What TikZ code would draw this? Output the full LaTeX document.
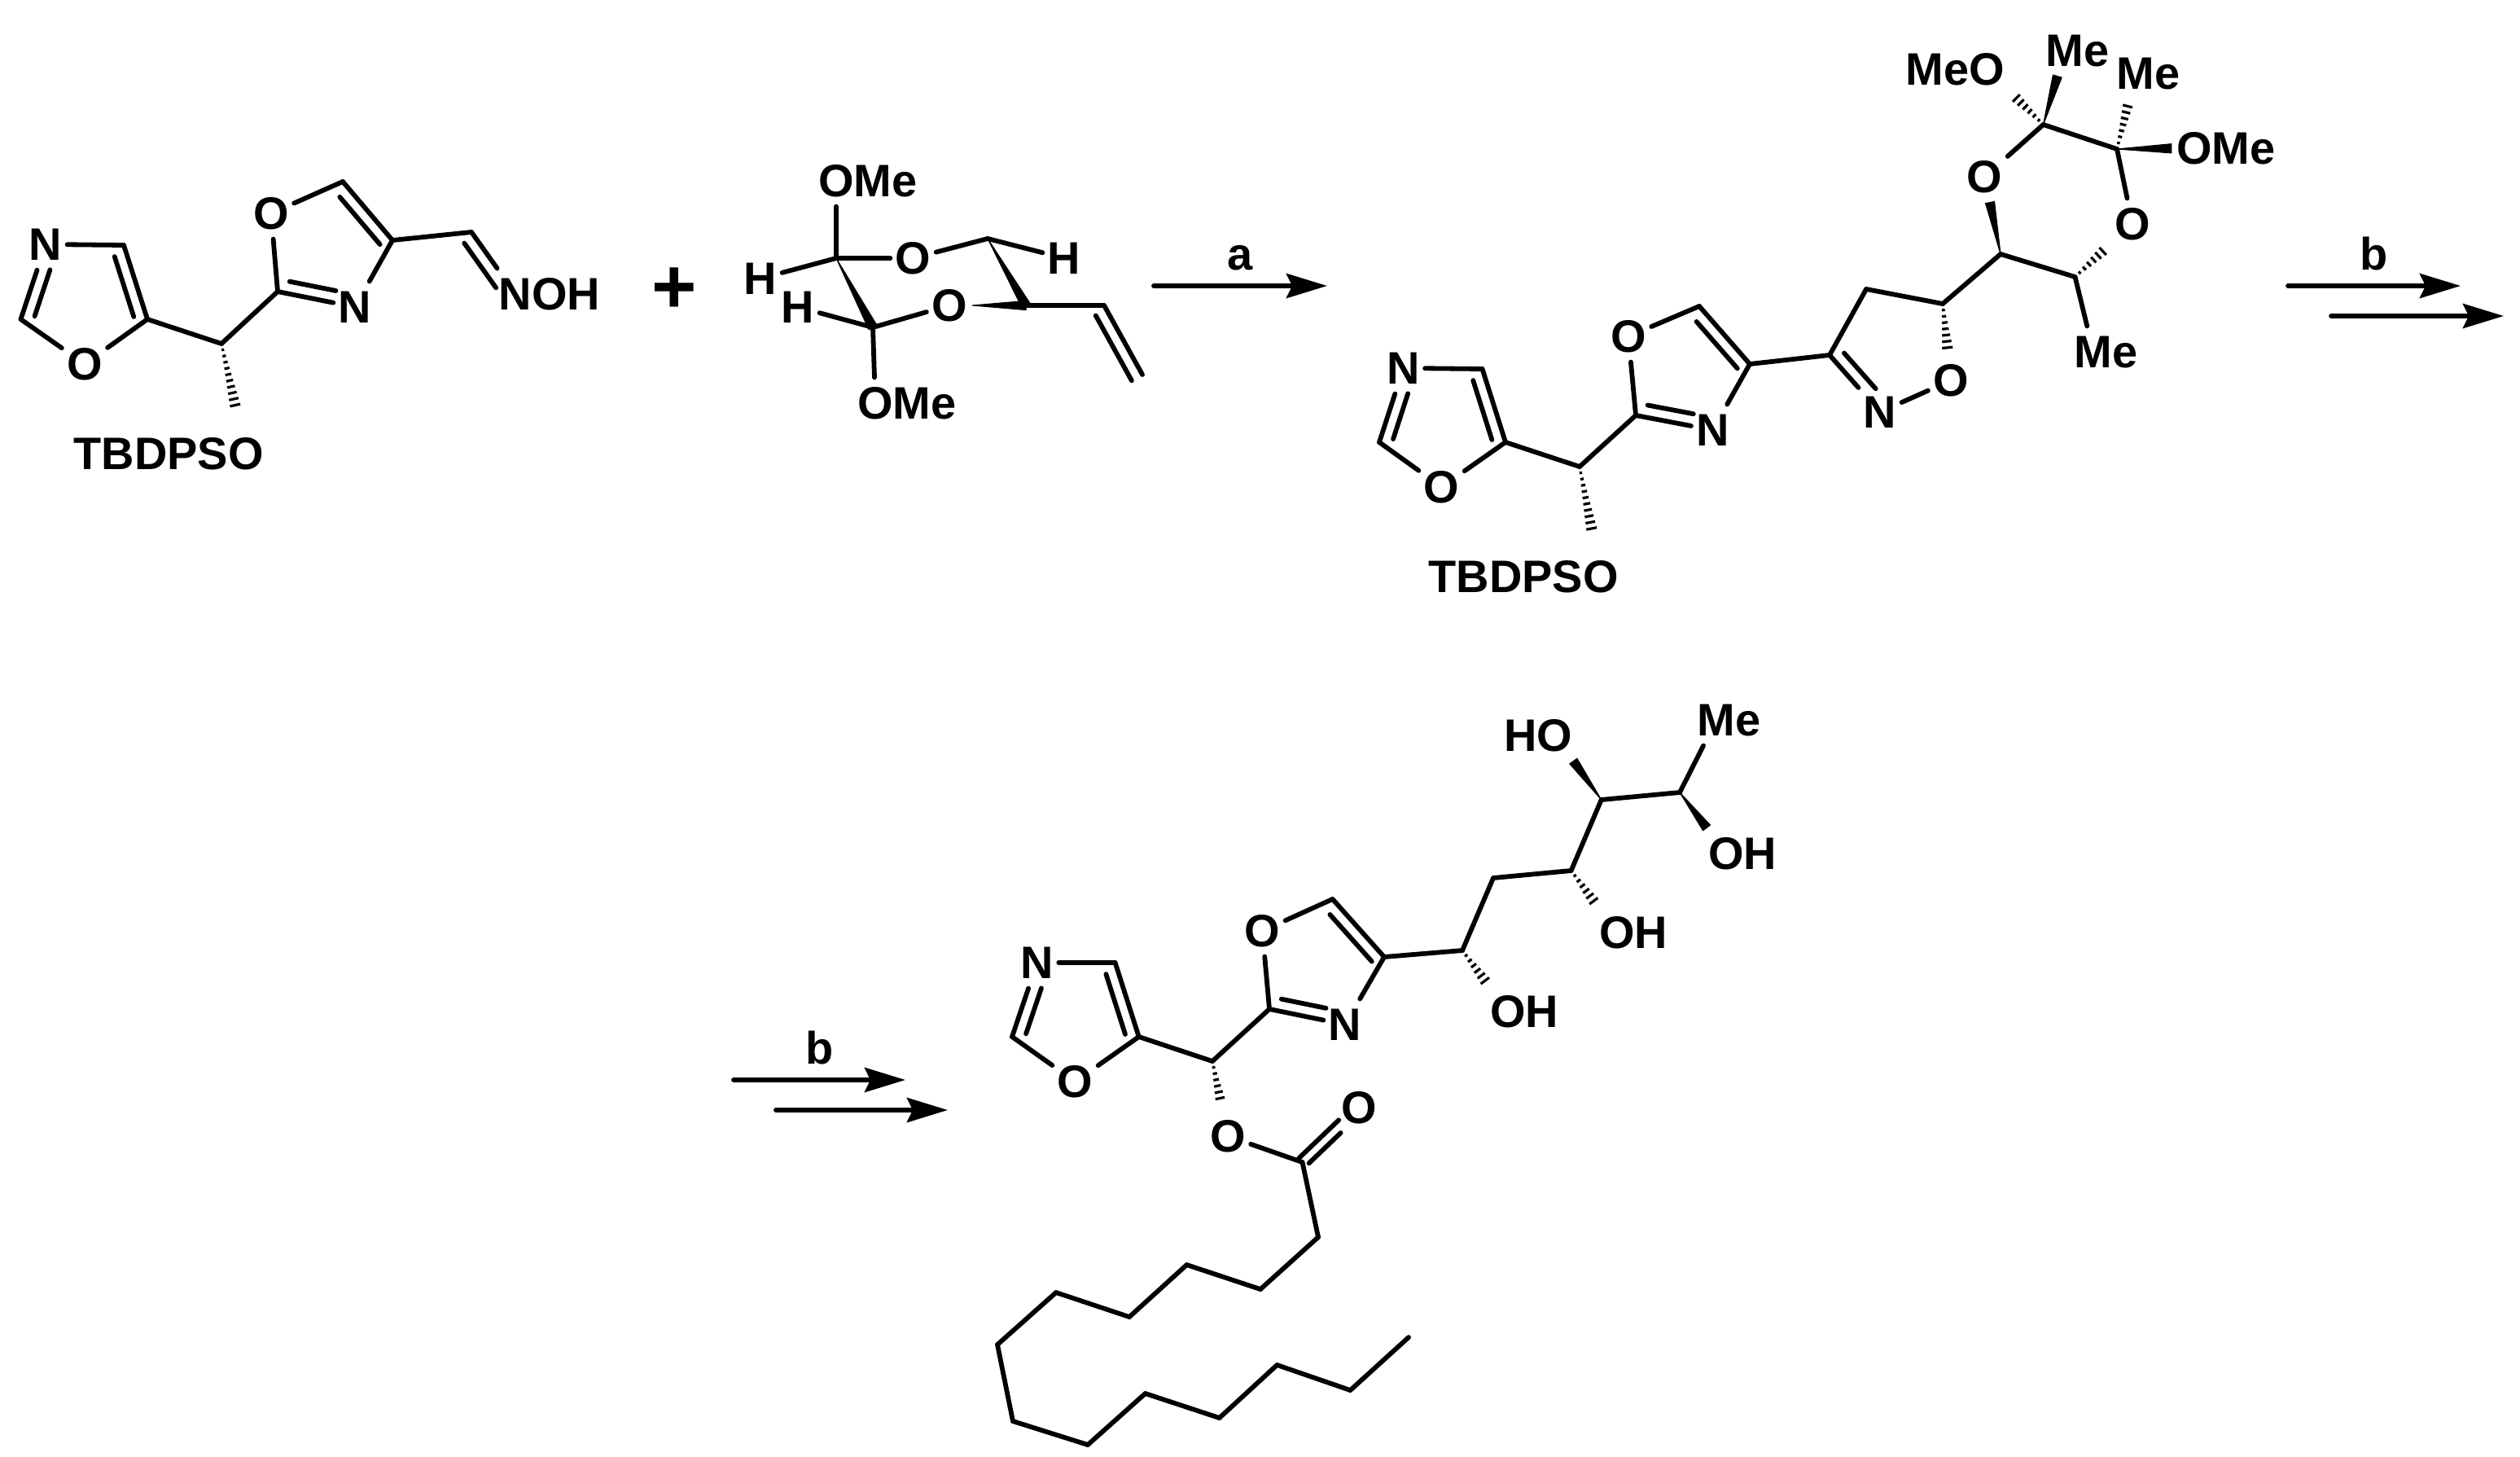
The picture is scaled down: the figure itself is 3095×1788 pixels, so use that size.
\documentclass[tikz,border=0pt]{standalone}
\usepackage{fontspec}
\setmainfont{Liberation Sans}
\usetikzlibrary{arrows.meta,calc,positioning,decorations}

\pgfdeclaredecoration{hashbond}{initial}{
  \state{initial}[width=2.2pt]{
    \pgfmathsetlengthmacro{\hashw}{0.3pt+1.8pt*(\pgfdecoratedcompleteddistance/\pgfdecoratedpathlength)}
    \pgfpathmoveto{\pgfpoint{0pt}{\hashw}}
    \pgfpathlineto{\pgfpoint{0pt}{-\hashw}}
  }
  \state{final}{}
}
\pgfdeclaredecoration{wedgebond}{initial}{
  \state{initial}[width=1pt,next state=final]{
    \pgfpathmoveto{\pgfpointorigin}
    \pgfpathlineto{\pgfpoint{\pgfdecoratedpathlength}{1.6pt}}
    \pgfpathlineto{\pgfpoint{\pgfdecoratedpathlength}{-1.6pt}}
    \pgfpathclose
  }
  \state{final}{}
}

\begin{document}
\begin{tikzpicture}[x=0.01cm,y=-0.01cm,line width=1.65pt,line cap=round,line join=round]
  \tikzset{>={Stealth[length=0.5cm,width=0.3cm,inset=0.07cm]}}
  \tikzset{
    vx/.style={coordinate},
    lab/.style={font=\fontsize{15.9}{19}\selectfont\bfseries},
    atom/.style={lab,inner xsep=1pt,inner ysep=2.5pt,text height=11.3pt,text depth=0pt},
    stepname/.style={lab,above,inner sep=4.6pt,text depth=0pt},
    hash/.style={decorate,decoration=hashbond,line width=.9pt,line cap=butt},
    wedge/.style={decorate,decoration=wedgebond,fill=black,line width=.3pt},
    dbl/.style n args={3}{to path={($(\tikztostart)!#1!90:(\tikztotarget)$) -- ($(\tikztotarget)!#1!-90:(\tikztostart)$)},shorten <=#2,shorten >=#3}
  }
  \useasboundingbox (0,0) rectangle (3095,1788);

  % oxime
  \node [atom] (aN) at (56,300) {N};
  \node [atom] (aO) at (104,447) {O};
  \node [atom,inner ysep=0.24cm] (aTbs) at (302,557) {\llap{TBDPS}O};
  \node [vx] (aC4) at (152,301) {} edge (aN);
  \node [vx] (aC5) at (181,392) {} edge (aC4) edge (aO) edge[dbl={0.15cm}{0.08cm}{0.1cm}] (aC4);
  \node [vx] (aC2) at (25.5,392) {} edge (aO) edge (aN) edge[dbl={-0.15cm}{0.09cm}{0.28cm}] (aN);
  \node [vx] (aCH) at (272,422) {} edge (aC5) edge[hash] (aTbs);
  \node [atom] (bN) at (436,377) {N};
  \node [atom] (bO) at (333,262) {O};
  \node [vx] (bCt) at (421,223) {} edge (bO);
  \node [vx] (bC4) at (482,295) {} edge (bCt) edge (bN) edge[dbl={0.15cm}{0.06cm}{0.12cm}] (bCt);
  \node [vx] (bC2) at (341,358) {} edge (bO) edge (bN) edge (aCH) edge[dbl={0.15cm}{0.12cm}{0.27cm}] (bN);
  \node [atom] (bNo) at (633,361) {N\rlap{OH}};
  \node [vx] (bCx) at (579,285) {} edge (bC4) edge (bNo) edge[dbl={-0.15cm}{0.06cm}{0.2cm}] (bNo);

  \node [lab,font=\fontsize{27}{30}\selectfont\bfseries,inner sep=0pt] (plus) at (828,357) {+};

  % acetal
  \node [atom] (pOa) at (1027,222) {O\rlap{Me}};
  \node [atom] (pHa) at (934,342) {H};
  \node [atom] (pOb) at (1121.5,317) {O};
  \node [atom] (pHb) at (1307,317) {H};
  \node [atom] (pHc) at (980,377) {H};
  \node [atom] (pOd) at (1075,495) {O\rlap{Me}};
  \node [vx] (pCa) at (1027,317) {} edge (pOa) edge (pHa) edge (pOb);
  \node [vx] (pCb) at (1213,293) {} edge (pOb) edge (pHb);
  \node [vx] (pCc) at (1072,402) {} edge (pHc) edge (pOd);
  \path (pCa) edge[wedge] (pCc);
  \node [vx] (pCd) at (1260,375) {};
  \path (pCb) edge[wedge] (pCd);
  \node [atom] (pOc) at (1166,375) {O} edge (pCc) edge[wedge] (pCd);
  \node [vx] (pCe) at (1356,375) {} edge (pCd);
  \node [vx] (pCf) at (1403,460) {} edge (pCe) edge[dbl={0.15cm}{0cm}{0.06cm}] (pCe);

  \node [vx] (s1e) at (1630,351) {};
  \node [vx] (s1) at (1417,351) {} edge[->] node[stepname] {a} (s1e);

  % isoxazoline
  \node [atom] (cN) at (1723.5,452) {N};
  \node [atom] (cO) at (1770.5,598) {O};
  \node [atom,inner ysep=0.24cm] (cTbs) at (1966,708) {\llap{TBDPS}O};
  \node [vx] (cC4) at (1820.5,453) {} edge (cN);
  \node [vx] (cC5) at (1849,543) {} edge (cC4) edge (cO) edge[dbl={0.15cm}{0.08cm}{0.1cm}] (cC4);
  \node [vx] (cC2) at (1694,543) {} edge (cO) edge (cN) edge[dbl={-0.15cm}{0.09cm}{0.28cm}] (cN);
  \node [vx] (cCH) at (1940,573) {} edge (cC5) edge[hash] (cTbs);
  \node [atom] (dN) at (2103.5,528) {N};
  \node [atom] (dO) at (2000,413) {O};
  \node [vx] (dCt) at (2087,376) {} edge (dO);
  \node [vx] (dC4) at (2149,447) {} edge (dCt) edge (dN) edge[dbl={0.15cm}{0.06cm}{0.12cm}] (dCt);
  \node [vx] (dC2) at (2009,510) {} edge (dO) edge (dN) edge (cCH) edge[dbl={0.15cm}{0.12cm}{0.27cm}] (dN);
  \node [atom] (eN) at (2309,506) {N};
  \node [atom] (eO) at (2396,467) {O} edge (eN);
  \node [vx] (eC3) at (2247,436) {} edge (dC4) edge (eN) edge[dbl={0.15cm}{0.1cm}{0.25cm}] (eN);
  \node [vx] (eC4) at (2292,355) {} edge (eC3);
  \node [vx] (eC5) at (2386,373) {} edge (eC4) edge[hash] (eO);
  \node [atom] (fOa) at (2437.5,217) {O};
  \node [atom] (fOb) at (2619,275) {O};
  \node [atom] (fMeO) at (2440,85) {\llap{Me}O};
  \node [atom] (fMea) at (2536,62) {M\rlap{e}};
  \node [atom,inner ysep=1pt] (fMeb) at (2623,90) {M\rlap{e}};
  \node [atom] (fOMe) at (2695,182) {O\rlap{Me}};
  \node [atom] (fMec) at (2571,432) {M\rlap{e}};
  \node [vx] (fC1) at (2457,312) {} edge (eC5) edge[wedge] (fOa);
  \node [vx] (fC2) at (2509.5,153) {} edge (fOa) edge[wedge] (fMea) edge[hash] (fMeO);
  \node [vx] (fC3) at (2600,183) {} edge (fC2) edge (fOb) edge[hash] (fMeb) edge[wedge] (fOMe);
  \node [vx] (fC4) at (2548.5,340) {} edge (fC1) edge (fMec) edge[hash] (fOb);

  \node [vx] (s2e) at (3022,351) {};
  \node [vx] (s2) at (2810,351) {} edge[->] node[stepname] {b} (s2e);
  \node [vx] (s3e) at (3075,388) {};
  \node [vx] (s3) at (2863,388) {} edge[->] (s3e);

  \node [vx] (s4e) at (1112,1326) {};
  \node [vx] (s4) at (901,1326) {} edge[->] node[stepname] {b} (s4e);
  \node [vx] (s5e) at (1164,1363) {};
  \node [vx] (s5) at (953,1363) {} edge[->] (s5e);

  % ester
  \node [atom] (gN) at (1273.7,1182) {N};
  \node [atom] (gO) at (1320.5,1328) {O};
  \node [atom] (jO) at (1508,1395) {O};
  \node [vx] (gC4) at (1369.6,1182) {} edge (gN);
  \node [vx] (gC5) at (1398.7,1273) {} edge (gC4) edge (gO) edge[dbl={0.15cm}{0.08cm}{0.1cm}] (gC4);
  \node [vx] (gC2) at (1243,1273) {} edge (gO) edge (gN) edge[dbl={-0.15cm}{0.09cm}{0.28cm}] (gN);
  \node [vx] (gCH) at (1489,1303) {} edge (gC5) edge[hash] (jO);
  \node [atom] (hN) at (1652,1258) {N};
  \node [atom] (hO) at (1550.4,1143) {O};
  \node [vx] (hCt) at (1636.6,1104) {} edge (hO);
  \node [vx] (hC4) at (1700,1175) {} edge (hCt) edge (hN) edge[dbl={0.15cm}{0.06cm}{0.12cm}] (hCt);
  \node [vx] (hC2) at (1559,1239) {} edge (hO) edge (hN) edge (gCH) edge[dbl={0.15cm}{0.12cm}{0.27cm}] (hN);
  \node [atom] (iOHa) at (1852,1242) {O\rlap{H}};
  \node [atom] (iOHb) at (1986,1145) {O\rlap{H}};
  \node [atom] (iHO) at (1909.5,903) {\llap{H}O};
  \node [atom] (iMe) at (2108,884) {M\rlap{e}};
  \node [atom] (iOHc) at (2120,1048) {O\rlap{H}};
  \node [vx] (iC1) at (1796,1167) {} edge (hC4) edge[hash] (iOHa);
  \node [vx] (iC2) at (1834,1078) {} edge (iC1);
  \node [vx] (iC3) at (1929.6,1069) {} edge (iC2) edge[hash] (iOHb);
  \node [vx] (iC4) at (1966.7,982) {} edge (iC3) edge[wedge] (iHO);
  \node [vx] (iC5) at (2063,973) {} edge (iC4) edge (iMe) edge[wedge] (iOHc);
  \node [atom] (jOd) at (1669.6,1360) {O};
  \node [vx] (k0) at (1599.5,1427) {} edge (jO)
    edge[dbl={0.065cm}{0cm}{0.29cm}] (jOd) edge[dbl={-0.065cm}{0.05cm}{0.38cm}] (jOd);
  \foreach \k/\x/\y [remember=\k as \p (initially 0)] in {1/1619/1519,2/1548/1583,3/1457.5/1553,
    4/1387/1617,5/1297/1587,6/1225/1651,7/1244/1745,8/1336/1774,9/1406.6/1711,
    10/1497.6/1741,11/1568.4/1676,12/1658.4/1707,13/1730/1642}
    \node [vx] (k\k) at (\x,\y) {} edge (k\p);
\end{tikzpicture}
\end{document}
